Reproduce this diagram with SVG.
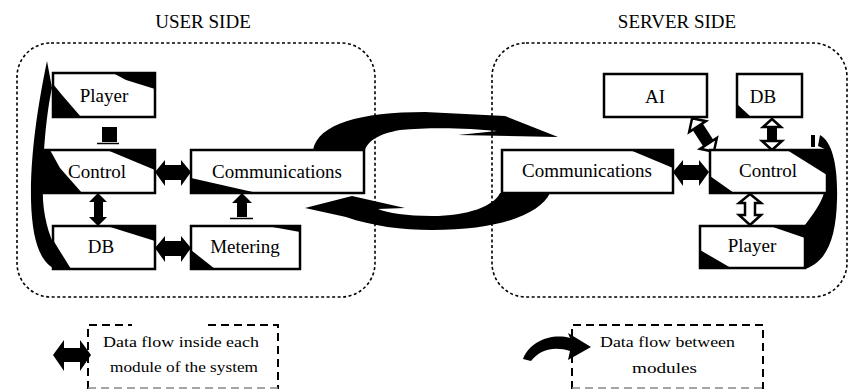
<svg xmlns="http://www.w3.org/2000/svg" width="848" height="389" viewBox="0 0 848 389">
  <style>
    .lbl { font-size: 19px; text-anchor: middle; }
    .ttl { font-size: 19px; text-anchor: middle; }
    .leg { font-size: 15px; }
    .box { fill: #fff; stroke: #000; stroke-width: 2.5; }
    .ink { fill: #000; }
    .zone { fill: none; stroke: #000; stroke-width: 1.6; stroke-dasharray: 3 2.5; }
    .legbox { fill: none; stroke: #000; stroke-width: 2; stroke-dasharray: 8 5; }
    .hollow { fill: #fff; stroke: #000; stroke-width: 2.5; stroke-linejoin: miter; }
  </style>

  <g font-family="'Liberation Serif', 'Times New Roman', serif" fill="#000">

  <!-- side titles -->
  <text class="ttl" x="203" y="28">USER SIDE</text>
  <text class="ttl" x="677" y="28">SERVER SIDE</text>

  <!-- dashed zones -->
  <rect class="zone" x="17" y="43" width="358" height="254" rx="34" ry="34"/>
  <rect class="zone" x="492" y="43" width="355" height="254" rx="34" ry="34"/>

  <!-- swept arcs behind the boxes -->
  <g id="connectors">
    <!-- user-side loop along the left -->
    <path class="ink" d="M47,61 C40,95 30,150 31,200 C32,240 40,262 55,269 L72,269 C56,256 45,230 43,200 C42,160 46,115 52,88 Z"/>
    <!-- server-side loop along the right -->
    <path class="ink" d="M820,135 C833,142 838,168 837,200 C836,240 826,262 805,269 L805,225 C813,214 821,204 824,193 L827,150 L818,146 Z"/>
    <path class="ink" d="M811,135 L815,135 L815,147 L811,147 Z"/>
    <!-- user to server arc -->
    <path class="ink" d="M313,150 C318,124 360,112 425,112 L505,116 L558,137 L458,135 L497,131 C470,128 430,127 400,130 C378,134 368,141 365,150 Z"/>
    <!-- server to user arc -->
    <path class="ink" d="M550,193 L500,193 C494,206 468,216 432,216 C406,216 388,213 378,209 L405,208 L352,196 L305,208 L346,217 C372,226 402,230 432,230 C500,230 540,214 550,193 Z"/>

    <!-- user-side inner flows -->
    <path class="ink" d="M155,172 L165,160 L165,165 L181,165 L181,160 L191,172 L181,186 L181,180 L165,180 L165,186 Z"/>
    <path class="ink" d="M155,248 L165,236 L165,241 L181,241 L181,236 L191,248 L181,262 L181,256 L165,256 L165,262 Z"/>
    <path class="ink" d="M98,193 L107,202 L103,202 L103,217 L107,217 L98,226 L89,217 L94,217 L94,202 L89,202 Z"/>
    <path class="ink" d="M102,127 L117,127 L117,142 L102,142 Z"/>
    <path d="M97,143.5 L119,143.5" stroke="#000" stroke-width="1.5"/>
    <path class="ink" d="M242,193 L252,203 L247,203 L247,217 L237,217 L237,203 L232,203 Z"/>
    <path d="M230,218.5 L253,218.5" stroke="#000" stroke-width="1.5"/>

    <!-- server-side inner flows -->
    <path class="ink" d="M673,172 L683,160 L683,165 L699,165 L699,160 L709,172 L699,186 L699,180 L683,180 L683,186 Z"/>
    <g transform="translate(703,135) rotate(57)">
      <path class="ink" d="M-11,-6 L11,-6 L11,6 L-11,6 Z"/>
      <path class="hollow" d="M-20,0 L-10,-10 L-10,10 Z"/>
      <path class="hollow" d="M20,0 L10,-10 L10,10 Z"/>
    </g>
    <path class="ink" d="M767,126 L777,126 L777,141 L767,141 Z"/>
    <path class="hollow" d="M772,119 L781,127 L763,127 Z"/>
    <path class="hollow" d="M772,150 L782,141 L762,141 Z"/>
    <path class="hollow" d="M750,194 L761,203 L755,203 L755,215 L761,215 L750,225 L739,215 L745,215 L745,203 L739,203 Z"/>
  </g>

  <!-- user side nodes -->
  <g id="u-player">
    <rect class="box" x="53" y="73" width="102" height="44"/>
    <path class="ink" d="M113,73 L155,73 L155,89 L126,80 Z"/>
    <path class="ink" d="M53,84 L62,95 L81,117 L53,117 Z"/>
    <text class="lbl" x="104" y="102">Player</text>
  </g>
  <g id="u-control">
    <rect class="box" x="37" y="150" width="118" height="43"/>
    <path class="ink" d="M107,150 L155,150 L155,170 Z"/>
    <path class="ink" d="M37,150 L50,150 L60,168 L82,193 L37,193 Z"/>
    <text class="lbl" x="97" y="178">Control</text>
  </g>
  <g id="u-comm">
    <rect class="box" x="191" y="150" width="173" height="43"/>
    <path class="ink" d="M191,178 L257,193 L191,193 Z"/>
    <text class="lbl" x="277" y="178">Communications</text>
  </g>
  <g id="u-db">
    <rect class="box" x="53" y="226" width="102" height="43"/>
    <path class="ink" d="M107,226 L155,226 L155,241 Z"/>
    <path class="ink" d="M53,240 L71,269 L53,269 Z"/>
    <text class="lbl" x="101" y="253">DB</text>
  </g>
  <g id="u-metering">
    <rect class="box" x="191" y="226" width="109" height="43"/>
    <path class="ink" d="M267,226 L300,226 L300,232 Z"/>
    <path class="ink" d="M191,250 L215,269 L191,269 Z"/>
    <text class="lbl" x="245" y="253">Metering</text>
  </g>

  <!-- server side nodes -->
  <g id="s-ai">
    <rect class="box" x="604" y="74" width="103" height="43"/>
    <text class="lbl" x="655" y="103">AI</text>
  </g>
  <g id="s-db">
    <rect class="box" x="737" y="74" width="65" height="43"/>
    <path class="ink" d="M737,104 L751,117 L737,117 Z"/>
    <text class="lbl" x="763" y="103">DB</text>
  </g>
  <g id="s-comm">
    <rect class="box" x="502" y="150" width="171" height="43"/>
    <path class="ink" d="M630,150 L673,150 L673,168 Z"/>
    <text class="lbl" x="587" y="177">Communications</text>
  </g>
  <g id="s-control">
    <rect class="box" x="710" y="150" width="117" height="43"/>
    <path class="ink" d="M787,150 L827,150 L827,175 Z"/>
    <path class="ink" d="M710,176 L734,193 L710,193 Z"/>
    <text class="lbl" x="768" y="177">Control</text>
  </g>
  <g id="s-player">
    <rect class="box" x="700" y="226" width="105" height="42"/>
    <path class="ink" d="M770,226 L805,226 L805,238 Z"/>
    <path class="ink" d="M700,250 L731,268 L700,268 Z"/>
    <text class="lbl" x="752" y="252">Player</text>
  </g>

  <!-- legend -->
  <g id="legend-inner">
    <path class="legbox" d="M88,389 L88,325 L132,325 M208,325 L278,325 L278,389"/>
    <path d="M88,388 L278,388" stroke="#888" stroke-width="1.5" stroke-dasharray="8 5"/>
    <path class="ink" d="M53,355 L64,340 L64,348 L80,348 L80,340 L91,355 L80,371 L80,362 L64,362 L64,371 Z"/>
    <text class="leg" x="103" y="347" textLength="156" lengthAdjust="spacingAndGlyphs">Data flow inside each</text>
    <text class="leg" x="110" y="372" textLength="148" lengthAdjust="spacingAndGlyphs">module of the system</text>
  </g>
  <g id="legend-between">
    <path class="legbox" d="M572,389 L572,325 L763,325 L763,389"/>
    <path d="M572,388 L763,388" stroke="#888" stroke-width="1.5" stroke-dasharray="8 5"/>
    <path class="ink" d="M523,359 C530,341 552,333 570,338 L568,333 L591,347 L568,360 L570,351 C555,346 540,349 531,361 Z"/>
    <text class="leg" x="600" y="347" textLength="135" lengthAdjust="spacingAndGlyphs">Data flow between</text>
    <text class="leg" x="632" y="373" textLength="65" lengthAdjust="spacingAndGlyphs">modules</text>
  </g>

  </g>
</svg>
